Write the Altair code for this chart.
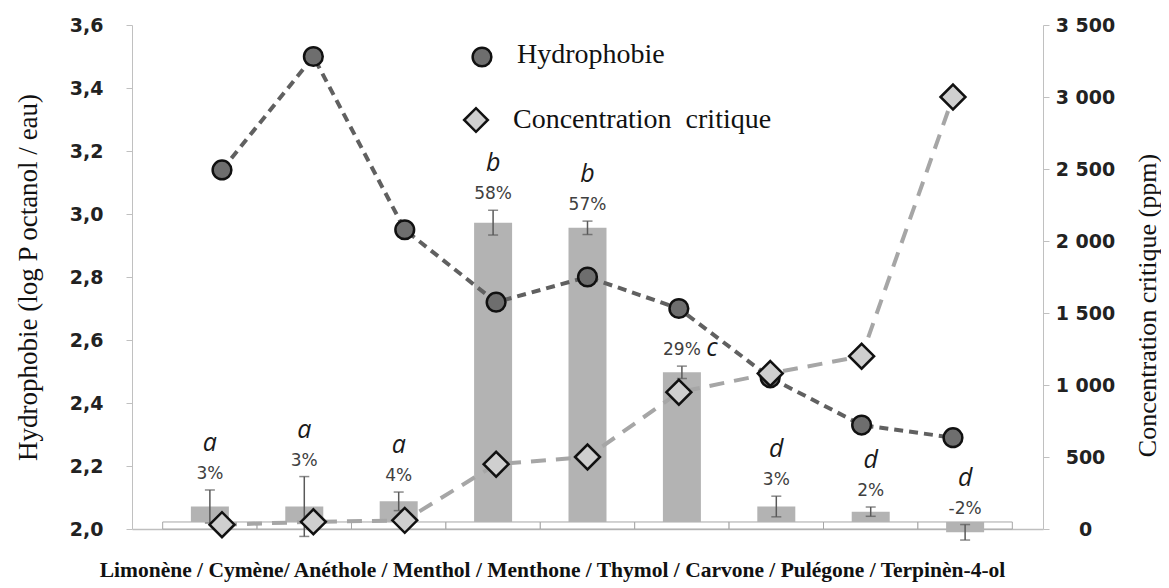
import altair as alt
import pandas as pd

compounds = ["Limonène", "Cymène", "Anéthole", "Menthol", "Menthone",
             "Thymol", "Carvone", "Pulégone", "Terpinèn-4-ol"]
hydrophobie = [3.14, 3.50, 2.95, 2.72, 2.80, 2.70, 2.48, 2.33, 2.29]
concentration = [30, 50, 60, 450, 500, 950, 1080, 1200, 3000]
pct = [3, 3, 4, 58, 57, 29, 3, 2, -2]
pct_err = [3.2, 5.8, 1.8, 2.4, 1.3, 1.2, 2.0, 0.9, 1.5]
groups = ["a", "a", "a", "b", "b", "c", "d", "d", "d"]
pct_labels = ["3%", "3%", "4%", "58%", "57%", "29%", "3%", "2%", "-2%"]
x_title = ("Limonène / Cymène/  Anéthole / Menthol / Menthone / Thymol / "
           "Carvone / Pulégone / Terpinèn-4-ol")
legend_labels = ["Hydrophobie", "Concentration\u00a0\u00a0critique"]

df = pd.DataFrame({
    "compound": compounds,
    "idx": list(range(len(compounds))),
    "hydro": hydrophobie,
    "conc": concentration,
    "pct": pct,
    "err": pct_err,
    "grp": groups,
    "plabel": pct_labels,
})

PCT_MIN, PCT_MAX = -1.36, 96.3
W, H = 911, 504

band_scale = alt.Scale(type="band", domain=compounds, paddingInner=0,
                       paddingOuter=0.325)
pct_scale = alt.Scale(domain=[PCT_MIN, PCT_MAX], nice=False, zero=False)
lin_scale = alt.Scale(domain=[-0.985, 8.985], nice=False, zero=False)
left_scale = alt.Scale(domain=[2.0, 3.6], nice=False, zero=False)
right_scale = alt.Scale(domain=[0, 3500], nice=False)

def xb(axis=None):
    return alt.X("compound:N", scale=band_scale, axis=axis)

xlin = alt.X("idx:Q", scale=lin_scale, axis=None)

base = alt.Chart(df).transform_calculate(
    lo="datum.pct - datum.err", hi="datum.pct + datum.err",
    zero="0", floor=str(PCT_MIN))

x_axis = alt.Axis(
    title=x_title, labels=False, ticks=False, domain=True,
    domainColor="#bfbfbf", domainWidth=1.5,
    titleFont="Liberation Serif", titleFontSize=21.5, titleFontWeight="bold",
    titleColor="#111111", titleX=420, titleY=41, titleAlign="center",
    titleBaseline="middle", titleAnchor="middle")

boxes = base.mark_bar(fill="white", stroke="#a6a6a6", strokeWidth=1).encode(
    x=xb(x_axis),
    y=alt.Y("floor:Q", scale=pct_scale, axis=None),
    y2="zero:Q")

bars = base.mark_bar(color="#b3b3b3", size=38).encode(
    x=xb(), y=alt.Y("pct:Q", scale=pct_scale, axis=None))

err_rule = base.mark_rule(color="#595959", strokeWidth=1.5).encode(
    x=xb(), y=alt.Y("lo:Q", scale=pct_scale, axis=None), y2="hi:Q")
cap_hi = base.mark_tick(color="#595959", thickness=1.5, size=10,
                        orient="horizontal").encode(
    x=xb(), y=alt.Y("hi:Q", scale=pct_scale, axis=None))
cap_lo = base.mark_tick(color="#595959", thickness=1.5, size=10,
                        orient="horizontal").encode(
    x=xb(), y=alt.Y("lo:Q", scale=pct_scale, axis=None))

pct_text = base.mark_text(dy=-16, font="DejaVu Sans", fontSize=17,
                          color="#404040", baseline="middle").encode(
    x=xb(), y=alt.Y("hi:Q", scale=pct_scale, axis=None), text="plabel:N")
grp_text = base.transform_filter("datum.grp != 'c'").mark_text(
    dy=-47, font="Open Sans", fontStyle="italic", fontSize=25,
    color="#1a1a1a", baseline="middle").encode(
    x=xb(), y=alt.Y("hi:Q", scale=pct_scale, axis=None), text="grp:N")
grp_text_c = base.transform_filter("datum.grp == 'c'").mark_text(
    dy=-18, dx=30, font="Open Sans", fontStyle="italic", fontSize=25,
    color="#1a1a1a", baseline="middle").encode(
    x=xb(), y=alt.Y("hi:Q", scale=pct_scale, axis=None), text="grp:N")

left_axis = alt.Axis(
    orient="left", values=[2.0, 2.2, 2.4, 2.6, 2.8, 3.0, 3.2, 3.4, 3.6],
    labelExpr="replace(format(datum.value, '.1f'), '.', ',')",
    grid=False, domainColor="#c0c0c0", tickColor="#c0c0c0", tickSize=6,
    labelPadding=23, labelFont="DejaVu Sans", labelFontSize=19,
    labelFontWeight="bold", labelColor="#222222",
    title="Hydrophobie  (log  P  octanol  /  eau)", titleFont="Liberation Serif",
    titleFontSize=27, titleFontWeight="normal", titleColor="#111111",
    titleAngle=270, titleX=-104, titleY=252, titleAlign="center",
    titleBaseline="middle")

right_axis = alt.Axis(
    orient="right", values=[0, 500, 1000, 1500, 2000, 2500, 3000, 3500],
    labelExpr="replace(format(datum.value, ','), ',', ' ')",
    grid=False, domainColor="#c0c0c0", tickColor="#c0c0c0", tickSize=6,
    labelPadding=36, labelAlign="center", labelFont="DejaVu Sans",
    labelFontSize=19, labelFontWeight="bold", labelColor="#222222",
    title="Concentration  critique  (ppm)", titleFont="Liberation Serif",
    titleFontSize=26, titleFontWeight="normal", titleColor="#111111",
    titleAngle=270, titleX=104, titleY=280, titleAlign="center",
    titleBaseline="middle")

hydro_line = base.mark_line(color="#606060", strokeWidth=4,
                            strokeDash=[9, 6]).encode(
    x=xlin, y=alt.Y("hydro:Q", scale=left_scale, axis=left_axis))
conc_line = base.mark_line(color="#a6a6a6", strokeWidth=4,
                           strokeDash=[15, 10]).encode(
    x=xlin, y=alt.Y("conc:Q", scale=right_scale, axis=right_axis))
hydro_pts = base.mark_point(shape="circle", filled=True, fill="#6e6e6e",
                            stroke="#111111", strokeWidth=2.5, size=350,
                            opacity=1).encode(
    x=xlin, y=alt.Y("hydro:Q", scale=left_scale, axis=None))
conc_pts = base.mark_point(shape="diamond", filled=True, fill="#cfcfcf",
                           stroke="#111111", strokeWidth=2.5, size=620,
                           opacity=1).encode(
    x=xlin, y=alt.Y("conc:Q", scale=right_scale, axis=None))

leg_df = pd.DataFrame({"label": legend_labels})
leg_c = alt.Chart(leg_df).transform_filter(
    alt.datum.label == legend_labels[0]).mark_point(
    shape="circle", filled=True, fill="#6e6e6e", stroke="#111111",
    strokeWidth=2.5, size=350, opacity=1).encode(
    x=alt.value(350), y=alt.value(32))
leg_d = alt.Chart(leg_df).transform_filter(
    alt.datum.label == legend_labels[1]).mark_point(
    shape="diamond", filled=True, fill="#cfcfcf", stroke="#111111",
    strokeWidth=2.5, size=560, opacity=1).encode(
    x=alt.value(344), y=alt.value(95))
leg_t1 = alt.Chart(leg_df).transform_filter(
    alt.datum.label == legend_labels[0]).mark_text(
    align="left", baseline="middle", font="Liberation Serif", fontSize=28,
    color="#111111").encode(x=alt.value(385), y=alt.value(30), text="label:N")
leg_t2 = alt.Chart(leg_df).transform_filter(
    alt.datum.label == legend_labels[1]).mark_text(
    align="left", baseline="middle", font="Liberation Serif", fontSize=28,
    color="#111111").encode(x=alt.value(381), y=alt.value(95), text="label:N")

chart = alt.layer(
    boxes, bars, err_rule, cap_hi, cap_lo, pct_text, grp_text, grp_text_c,
    hydro_line, conc_line, hydro_pts, conc_pts,
    leg_c, leg_d, leg_t1, leg_t2,
).resolve_scale(x="independent", y="independent").properties(
    width=W, height=H,
    autosize=alt.AutoSizeParams(type="none"),
    padding={"left": 124, "top": 17, "right": 118, "bottom": 55},
    background="white",
).configure_view(stroke=None)

chart.save("out.html", embed_options={"renderer": "svg", "actions": False})
